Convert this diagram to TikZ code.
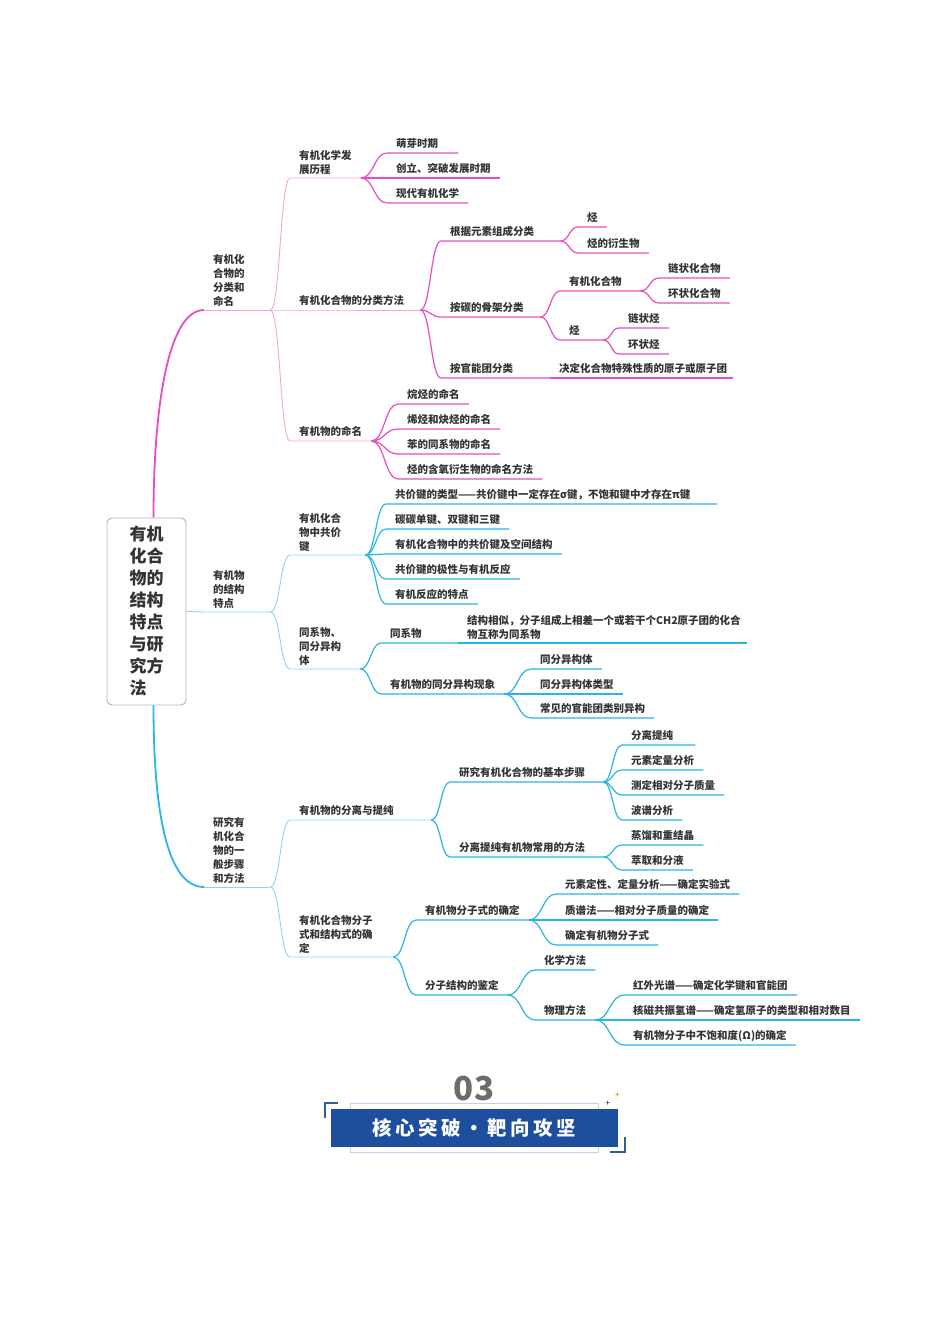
\documentclass[tikz,border=0pt]{standalone}
\usepackage{fontspec}
\setmainfont{Noto Sans CJK SC}
\usetikzlibrary{calc}

\definecolor{rosa}{HTML}{E84DBF}
\definecolor{rosaclaro}{HTML}{F3A3DD}
\definecolor{cian}{HTML}{2AB5E5}
\definecolor{cianclaro}{HTML}{8AD6F1}
\definecolor{texto}{HTML}{333333}
\definecolor{azul}{HTML}{1E4F9E}
\definecolor{azulmedio}{HTML}{2E5EA8}
\definecolor{azulclaro}{HTML}{C5D3EA}
\definecolor{naranja}{HTML}{E9A23B}

\tikzset{
  raizbox/.style={draw=gray!60, rounded corners=5pt, line width=0.9pt, minimum width=79pt, minimum height=187pt, align=left, text=texto, font=\fontsize{17}{22}\selectfont\bfseries},
  temab/.style={anchor=south west, inner xsep=9pt, inner ysep=3.5pt, align=left, text=texto, font=\fontsize{10.5}{14}\selectfont\bfseries},
  tema/.style={temab, text depth=1.5pt},
  fan/.style={to path={let \p1=(\tikztostart), \p2=(\tikztotarget) in .. controls ({(\x1+\x2)/2},\y1) and ({(\x1+\x2)/2},\y2) .. (\tikztotarget)}},
  gruesa/.style={line width=1.8pt},
  fina/.style={line width=0.9pt},
  hoja/.style={line width=1.2pt}
}

\begin{document}
\begin{tikzpicture}[x=1pt,y=-1pt]
\useasboundingbox (0,0) rectangle (950,1344);

% Nodo central
\node[raizbox] (raiz) at (146.5,611.5) {有机\\化合\\物的\\结构\\特点\\与研\\究方\\法};

% Rama 1: clasificacion y nomenclatura
\node[temab, text width=48pt] (fenlei) at (204,310) {有机化\\合物的\\分类和\\命名};
\node[temab] (lishi) at (290,178) {有机化学发\\展历程};
\node[tema, text width=53pt] (lishi1) at (387,153) {萌芽时期};
\node[tema] (lishi2) at (387,178) {创立、突破发展时期};
\node[tema] (lishi3) at (387,203) {现代有机化学};
\node[tema, text width=112pt] (fangfa) at (290,310) {有机化合物的分类方法};
\node[tema, text width=101pt] (yuansu) at (441,241) {根据元素组成分类};
\node[tema] (ting) at (578,227) {烃};
\node[tema] (yansheng) at (578,253) {烃的衍生物};
\node[tema, text width=81pt] (guji) at (441,317) {按碳的骨架分类};
\node[tema, text width=62pt] (huahewu) at (560,291) {有机化合物};
\node[tema] (lianzhuang) at (659,278) {链状化合物};
\node[tema] (huanzhuang) at (659,303) {环状化合物};
\node[tema, text width=25pt] (ting2) at (560,340) {烃};
\node[tema] (lianting) at (619,328) {链状烃};
\node[tema] (huanting) at (619,354) {环状烃};
\node[tema, text width=91pt] (guanneng) at (441,378) {按官能团分类};
\node[tema, text width=165pt] (yuanzituan) at (550,378) {决定化合物特殊性质的原子或原子团};
\node[tema] (mingming) at (290,441) {有机物的命名};
\node[tema] (mm1) at (398,404) {烷烃的命名};
\node[tema] (mm2) at (398,429) {烯烃和炔烃的命名};
\node[tema] (mm3) at (398,454) {苯的同系物的命名};
\node[tema] (mm4) at (398,479) {烃的含氧衍生物的命名方法};

% Conectores rama 1
\draw[rosa, gruesa] ([xshift=7pt]raiz.north) .. controls +(0,-110) and +(-36,0) .. (fenlei.south west);
\draw[rosaclaro, fina] (fenlei.south west) -- (fenlei.south east);
\draw[rosaclaro, fina] (fenlei.south east) to[fan] (lishi.south west) -- (lishi.south east);
\draw[rosaclaro, fina] (fenlei.south east) to[fan] (fangfa.south west) -- (fangfa.south east);
\draw[rosaclaro, fina] (fenlei.south east) to[fan] (mingming.south west) -- (mingming.south east);
\draw[rosa, hoja] (lishi.south east) to[fan] (lishi1.south west) -- (lishi1.south east);
\draw[rosa, hoja] (lishi.south east) to[fan] (lishi2.south west) -- (lishi2.south east);
\draw[rosa, hoja] (lishi.south east) to[fan] (lishi3.south west) -- (lishi3.south east);
\draw[rosa, hoja] (fangfa.south east) to[fan] (yuansu.south west) -- (yuansu.south east);
\draw[rosa, hoja] (fangfa.south east) to[fan] (guji.south west) -- (guji.south east);
\draw[rosa, hoja] (fangfa.south east) to[fan] (guanneng.south west) -- (guanneng.south east);
\draw[rosa, hoja] (yuansu.south east) to[fan] (ting.south west) -- (ting.south east);
\draw[rosa, hoja] (yuansu.south east) to[fan] (yansheng.south west) -- (yansheng.south east);
\draw[rosa, hoja] (guji.south east) to[fan] (huahewu.south west) -- (huahewu.south east);
\draw[rosa, hoja] (guji.south east) to[fan] (ting2.south west) -- (ting2.south east);
\draw[rosa, hoja] (huahewu.south east) to[fan] (lianzhuang.south west) -- (lianzhuang.south east);
\draw[rosa, hoja] (huahewu.south east) to[fan] (huanzhuang.south west) -- (huanzhuang.south east);
\draw[rosa, hoja] (ting2.south east) to[fan] (lianting.south west) -- (lianting.south east);
\draw[rosa, hoja] (ting2.south east) to[fan] (huanting.south west) -- (huanting.south east);
\draw[rosa, hoja] (guanneng.south east) -- (yuanzituan.south west) -- (yuanzituan.south east);
\draw[rosa, hoja] (mingming.south east) to[fan] (mm1.south west) -- (mm1.south east);
\draw[rosa, hoja] (mingming.south east) to[fan] (mm2.south west) -- (mm2.south east);
\draw[rosa, hoja] (mingming.south east) to[fan] (mm3.south west) -- (mm3.south east);
\draw[rosa, hoja] (mingming.south east) to[fan] (mm4.south west) -- (mm4.south east);

% Rama 2: estructura
\node[temab, text width=48pt] (jiegou) at (204,612) {有机物\\的结构\\特点};
\node[temab, text width=57pt] (gongjia) at (290,555) {有机化合\\物中共价\\键};
\node[tema, text width=313pt] (gj1) at (386,504) {共价键的类型——共价键中一定存在σ键，不饱和键中才存在π键};
\node[tema] (gj2) at (386,529) {碳碳单键、双键和三键};
\node[tema] (gj3) at (386,554) {有机化合物中的共价键及空间结构};
\node[tema] (gj4) at (386,579) {共价键的极性与有机反应};
\node[tema] (gj5) at (386,604) {有机反应的特点};
\node[temab, text width=52pt] (tongxi) at (290,669) {同系物、\\同分异构\\体};
\node[tema, text width=59pt] (tongxiwu) at (381,643) {同系物};
\node[temab, text width=271pt] (dingyi) at (458,643) {结构相似，分子组成上相差一个或若干个CH2原子团的化合\\物互称为同系物};
\node[tema] (yigou) at (381,694) {有机物的同分异构现象};
\node[tema] (yg1) at (531,669) {同分异构体};
\node[tema] (yg2) at (531,694) {同分异构体类型};
\node[tema] (yg3) at (531,718) {常见的官能团类别异构};

% Conectores rama 2
\draw[cianclaro, fina] (raiz.east) -- (jiegou.south west) -- (jiegou.south east);
\draw[cianclaro, fina] (jiegou.south east) to[fan] (gongjia.south west) -- (gongjia.south east);
\draw[cianclaro, fina] (jiegou.south east) to[fan] (tongxi.south west) -- (tongxi.south east);
\draw[cian, hoja] (gongjia.south east) to[fan] (gj1.south west) -- (gj1.south east);
\draw[cian, hoja] (gongjia.south east) to[fan] (gj2.south west) -- (gj2.south east);
\draw[cian, hoja] (gongjia.south east) to[fan] (gj3.south west) -- (gj3.south east);
\draw[cian, hoja] (gongjia.south east) to[fan] (gj4.south west) -- (gj4.south east);
\draw[cian, hoja] (gongjia.south east) to[fan] (gj5.south west) -- (gj5.south east);
\draw[cian, hoja] (tongxi.south east) to[fan] (tongxiwu.south west) -- (tongxiwu.south east);
\draw[cian, hoja] (tongxiwu.south east) -- (dingyi.south west) -- (dingyi.south east);
\draw[cian, hoja] (tongxi.south east) to[fan] (yigou.south west) -- (yigou.south east);
\draw[cian, hoja] (yigou.south east) to[fan] (yg1.south west) -- (yg1.south east);
\draw[cian, hoja] (yigou.south east) to[fan] (yg2.south west) -- (yg2.south east);
\draw[cian, hoja] (yigou.south east) to[fan] (yg3.south west) -- (yg3.south east);

% Rama 3: metodos de estudio
\node[temab, text width=48pt] (yanjiu) at (204,887) {研究有\\机化合\\物的一\\般步骤\\和方法};
\node[tema, text width=123pt] (fenli) at (290,820) {有机物的分离与提纯};
\node[tema, text width=135pt] (buzhou) at (450,782) {研究有机化合物的基本步骤};
\node[tema, text width=55pt] (bz1) at (622,745) {分离提纯};
\node[tema] (bz2) at (622,770) {元素定量分析};
\node[tema] (bz3) at (622,795) {测定相对分子质量};
\node[tema] (bz4) at (622,820) {波谱分析};
\node[tema, text width=135pt] (changyong) at (450,857) {分离提纯有机物常用的方法};
\node[tema] (cy1) at (622,845) {蒸馏和重结晶};
\node[tema] (cy2) at (622,870) {萃取和分液};
\node[temab, text width=85pt] (queding) at (290,957) {有机化合物分子\\式和结构式的确\\定};
\node[tema] (fenzishi) at (416,920) {有机物分子式的确定};
\node[tema] (fz1) at (556,894) {元素定性、定量分析——确定实验式};
\node[tema] (fz2) at (556,920) {质谱法——相对分子质量的确定};
\node[tema] (fz3) at (556,945) {确定有机物分子式};
\node[tema] (jianding) at (416,995) {分子结构的鉴定};
\node[tema] (huaxue) at (535,970) {化学方法};
\node[tema] (wuli) at (535,1020) {物理方法};
\node[tema] (wl1) at (624,995) {红外光谱——确定化学键和官能团};
\node[tema] (wl2) at (624,1020) {核磁共振氢谱——确定氢原子的类型和相对数目};
\node[tema] (wl3) at (624,1045) {有机物分子中不饱和度(Ω)的确定};

% Conectores rama 3
\draw[cian, gruesa] ([xshift=7pt]raiz.south) .. controls +(0,110) and +(-36,0) .. (yanjiu.south west);
\draw[cianclaro, fina] (yanjiu.south west) -- (yanjiu.south east);
\draw[cianclaro, fina] (yanjiu.south east) to[fan] (fenli.south west) -- (fenli.south east);
\draw[cianclaro, fina] (yanjiu.south east) to[fan] (queding.south west) -- (queding.south east);
\draw[cian, hoja] (fenli.south east) to[fan] (buzhou.south west) -- (buzhou.south east);
\draw[cian, hoja] (fenli.south east) to[fan] (changyong.south west) -- (changyong.south east);
\draw[cian, hoja] (buzhou.south east) to[fan] (bz1.south west) -- (bz1.south east);
\draw[cian, hoja] (buzhou.south east) to[fan] (bz2.south west) -- (bz2.south east);
\draw[cian, hoja] (buzhou.south east) to[fan] (bz3.south west) -- (bz3.south east);
\draw[cian, hoja] (buzhou.south east) to[fan] (bz4.south west) -- (bz4.south east);
\draw[cian, hoja] (changyong.south east) to[fan] (cy1.south west) -- (cy1.south east);
\draw[cian, hoja] (changyong.south east) to[fan] (cy2.south west) -- (cy2.south east);
\draw[cian, hoja] (queding.south east) to[fan] (fenzishi.south west) -- (fenzishi.south east);
\draw[cian, hoja] (queding.south east) to[fan] (jianding.south west) -- (jianding.south east);
\draw[cian, hoja] (fenzishi.south east) to[fan] (fz1.south west) -- (fz1.south east);
\draw[cian, hoja] (fenzishi.south east) to[fan] (fz2.south west) -- (fz2.south east);
\draw[cian, hoja] (fenzishi.south east) to[fan] (fz3.south west) -- (fz3.south east);
\draw[cian, hoja] (jianding.south east) to[fan] (huaxue.south west) -- (huaxue.south east);
\draw[cian, hoja] (jianding.south east) to[fan] (wuli.south west) -- (wuli.south east);
\draw[cian, hoja] (wuli.south east) to[fan] (wl1.south west) -- (wl1.south east);
\draw[cian, hoja] (wuli.south east) to[fan] (wl2.south west) -- (wl2.south east);
\draw[cian, hoja] (wuli.south east) to[fan] (wl3.south west) -- (wl3.south east);

% Titulo inferior
\node[font=\fontsize{33}{33}\selectfont\bfseries, text=gray!85!black] (numero) at (474,1089) {03};
\draw[azulclaro, line width=1pt] (350,1103) rectangle (598,1152);
\node[fill=azul, minimum width=287pt, minimum height=38pt, inner sep=0pt, text=white, font=\fontsize{19.5}{20}\selectfont\bfseries\addfontfeature{LetterSpace=18}] (titulo) at (474.5,1128) {核心突破・靶向攻坚};
\draw[azulmedio, line width=1.5pt] (338,1103) -- (325,1103) -- (325,1118);
\draw[azulmedio, line width=1.5pt] (610,1152) -- (625,1152) -- (625,1137);
\fill[texto] (607.7,1100) .. controls (607.7,1102.7) .. (610.4,1102.7) .. controls (607.7,1102.7) .. (607.7,1105.4) .. controls (607.7,1102.7) .. (605,1102.7) .. controls (607.7,1102.7) .. (607.7,1100);
\fill[naranja] (617.3,1089.8) .. controls (617.3,1094.3) .. (621.8,1094.3) .. controls (617.3,1094.3) .. (617.3,1098.8) .. controls (617.3,1094.3) .. (612.8,1094.3) .. controls (617.3,1094.3) .. (617.3,1089.8);
\end{tikzpicture}
\end{document}
